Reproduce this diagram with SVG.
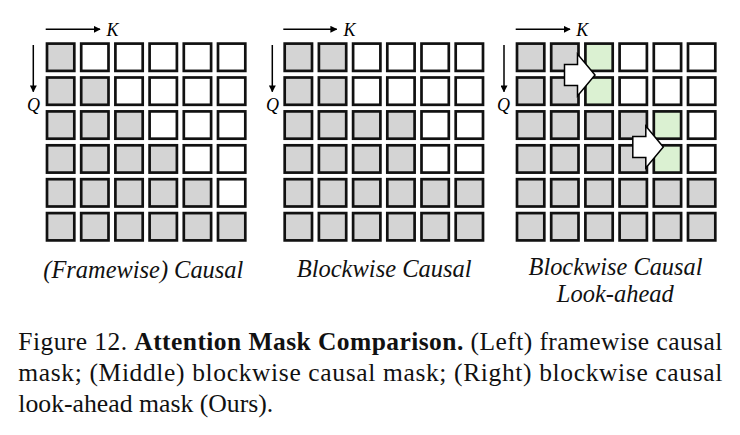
<svg xmlns="http://www.w3.org/2000/svg" width="740" height="435" viewBox="0 0 740 435">
<style>
  .c{stroke:#111;stroke-width:2.7}
  .g{fill:#d4d4d4}
  .w{fill:#fff}
  .n{fill:#dbf1d2}
  .ax{stroke:#000;stroke-width:1.5;fill:none}
  .lab{font-family:"Liberation Serif","Times New Roman",serif;font-style:italic;font-size:18px;fill:#000}
  .cap{font-family:"Liberation Serif","Times New Roman",serif;font-style:italic;font-size:25px;fill:#111;text-anchor:middle}
  .fig{font-family:"Liberation Serif","Times New Roman",serif;font-size:25.5px;fill:#111}
  .blk{fill:#fff;stroke:#000;stroke-width:1.5;stroke-linejoin:miter}
</style>
<defs>
  <marker id="ah2" viewBox="0 0 10 10" refX="9" refY="5" markerWidth="7" markerHeight="7" orient="auto" markerUnits="userSpaceOnUse">
    <path d="M0,0 L10,5 L0,10 z" fill="#000"/>
  </marker>
</defs>
<rect width="740" height="435" fill="#fff"/>

<g id="connectors">
  <line class="ax" x1="45.7" y1="29.3" x2="100" y2="29.3" marker-end="url(#ah2)"/>
  <line class="ax" x1="33.3" y1="45" x2="33.3" y2="91.7" marker-end="url(#ah2)"/>
  <line class="ax" x1="283.3" y1="29.3" x2="336.7" y2="29.3" marker-end="url(#ah2)"/>
  <line class="ax" x1="272.3" y1="45" x2="272.3" y2="91.7" marker-end="url(#ah2)"/>
  <line class="ax" x1="515.7" y1="29.3" x2="570" y2="29.3" marker-end="url(#ah2)"/>
  <line class="ax" x1="504" y1="45" x2="504" y2="91.7" marker-end="url(#ah2)"/>
</g>

<g id="labels">
  <text class="lab" x="106.5" y="35.8">K</text>
  <text class="lab" x="33.5" y="111" text-anchor="middle">Q</text>
  <text class="lab" x="343.5" y="35.8">K</text>
  <text class="lab" x="272.5" y="111" text-anchor="middle">Q</text>
  <text class="lab" x="576.2" y="35.8">K</text>
  <text class="lab" x="503.5" y="111" text-anchor="middle">Q</text>
</g>

<g id="grid-framewise">
  <rect class="c g" x="47.0" y="43.6" width="27.3" height="27.3"/>
  <rect class="c w" x="81.2" y="43.6" width="27.3" height="27.3"/>
  <rect class="c w" x="115.4" y="43.6" width="27.3" height="27.3"/>
  <rect class="c w" x="149.6" y="43.6" width="27.3" height="27.3"/>
  <rect class="c w" x="183.8" y="43.6" width="27.3" height="27.3"/>
  <rect class="c w" x="218.0" y="43.6" width="27.3" height="27.3"/>

  <rect class="c g" x="47.0" y="77.5" width="27.3" height="27.3"/>
  <rect class="c g" x="81.2" y="77.5" width="27.3" height="27.3"/>
  <rect class="c w" x="115.4" y="77.5" width="27.3" height="27.3"/>
  <rect class="c w" x="149.6" y="77.5" width="27.3" height="27.3"/>
  <rect class="c w" x="183.8" y="77.5" width="27.3" height="27.3"/>
  <rect class="c w" x="218.0" y="77.5" width="27.3" height="27.3"/>

  <rect class="c g" x="47.0" y="111.4" width="27.3" height="27.3"/>
  <rect class="c g" x="81.2" y="111.4" width="27.3" height="27.3"/>
  <rect class="c g" x="115.4" y="111.4" width="27.3" height="27.3"/>
  <rect class="c w" x="149.6" y="111.4" width="27.3" height="27.3"/>
  <rect class="c w" x="183.8" y="111.4" width="27.3" height="27.3"/>
  <rect class="c w" x="218.0" y="111.4" width="27.3" height="27.3"/>

  <rect class="c g" x="47.0" y="145.3" width="27.3" height="27.3"/>
  <rect class="c g" x="81.2" y="145.3" width="27.3" height="27.3"/>
  <rect class="c g" x="115.4" y="145.3" width="27.3" height="27.3"/>
  <rect class="c g" x="149.6" y="145.3" width="27.3" height="27.3"/>
  <rect class="c w" x="183.8" y="145.3" width="27.3" height="27.3"/>
  <rect class="c w" x="218.0" y="145.3" width="27.3" height="27.3"/>

  <rect class="c g" x="47.0" y="179.2" width="27.3" height="27.3"/>
  <rect class="c g" x="81.2" y="179.2" width="27.3" height="27.3"/>
  <rect class="c g" x="115.4" y="179.2" width="27.3" height="27.3"/>
  <rect class="c g" x="149.6" y="179.2" width="27.3" height="27.3"/>
  <rect class="c g" x="183.8" y="179.2" width="27.3" height="27.3"/>
  <rect class="c w" x="218.0" y="179.2" width="27.3" height="27.3"/>

  <rect class="c g" x="47.0" y="213.1" width="27.3" height="27.3"/>
  <rect class="c g" x="81.2" y="213.1" width="27.3" height="27.3"/>
  <rect class="c g" x="115.4" y="213.1" width="27.3" height="27.3"/>
  <rect class="c g" x="149.6" y="213.1" width="27.3" height="27.3"/>
  <rect class="c g" x="183.8" y="213.1" width="27.3" height="27.3"/>
  <rect class="c g" x="218.0" y="213.1" width="27.3" height="27.3"/>
</g>

<g id="grid-blockwise">
  <rect class="c g" x="284.7" y="43.6" width="27.3" height="27.3"/>
  <rect class="c g" x="318.9" y="43.6" width="27.3" height="27.3"/>
  <rect class="c w" x="353.1" y="43.6" width="27.3" height="27.3"/>
  <rect class="c w" x="387.3" y="43.6" width="27.3" height="27.3"/>
  <rect class="c w" x="421.5" y="43.6" width="27.3" height="27.3"/>
  <rect class="c w" x="455.7" y="43.6" width="27.3" height="27.3"/>

  <rect class="c g" x="284.7" y="77.5" width="27.3" height="27.3"/>
  <rect class="c g" x="318.9" y="77.5" width="27.3" height="27.3"/>
  <rect class="c w" x="353.1" y="77.5" width="27.3" height="27.3"/>
  <rect class="c w" x="387.3" y="77.5" width="27.3" height="27.3"/>
  <rect class="c w" x="421.5" y="77.5" width="27.3" height="27.3"/>
  <rect class="c w" x="455.7" y="77.5" width="27.3" height="27.3"/>

  <rect class="c g" x="284.7" y="111.4" width="27.3" height="27.3"/>
  <rect class="c g" x="318.9" y="111.4" width="27.3" height="27.3"/>
  <rect class="c g" x="353.1" y="111.4" width="27.3" height="27.3"/>
  <rect class="c g" x="387.3" y="111.4" width="27.3" height="27.3"/>
  <rect class="c w" x="421.5" y="111.4" width="27.3" height="27.3"/>
  <rect class="c w" x="455.7" y="111.4" width="27.3" height="27.3"/>

  <rect class="c g" x="284.7" y="145.3" width="27.3" height="27.3"/>
  <rect class="c g" x="318.9" y="145.3" width="27.3" height="27.3"/>
  <rect class="c g" x="353.1" y="145.3" width="27.3" height="27.3"/>
  <rect class="c g" x="387.3" y="145.3" width="27.3" height="27.3"/>
  <rect class="c w" x="421.5" y="145.3" width="27.3" height="27.3"/>
  <rect class="c w" x="455.7" y="145.3" width="27.3" height="27.3"/>

  <rect class="c g" x="284.7" y="179.2" width="27.3" height="27.3"/>
  <rect class="c g" x="318.9" y="179.2" width="27.3" height="27.3"/>
  <rect class="c g" x="353.1" y="179.2" width="27.3" height="27.3"/>
  <rect class="c g" x="387.3" y="179.2" width="27.3" height="27.3"/>
  <rect class="c g" x="421.5" y="179.2" width="27.3" height="27.3"/>
  <rect class="c g" x="455.7" y="179.2" width="27.3" height="27.3"/>

  <rect class="c g" x="284.7" y="213.1" width="27.3" height="27.3"/>
  <rect class="c g" x="318.9" y="213.1" width="27.3" height="27.3"/>
  <rect class="c g" x="353.1" y="213.1" width="27.3" height="27.3"/>
  <rect class="c g" x="387.3" y="213.1" width="27.3" height="27.3"/>
  <rect class="c g" x="421.5" y="213.1" width="27.3" height="27.3"/>
  <rect class="c g" x="455.7" y="213.1" width="27.3" height="27.3"/>
</g>

<g id="grid-lookahead">
  <rect class="c g" x="517.0" y="43.6" width="27.3" height="27.3"/>
  <rect class="c g" x="551.2" y="43.6" width="27.3" height="27.3"/>
  <rect class="c n" x="585.4" y="43.6" width="27.3" height="27.3"/>
  <rect class="c w" x="619.6" y="43.6" width="27.3" height="27.3"/>
  <rect class="c w" x="653.8" y="43.6" width="27.3" height="27.3"/>
  <rect class="c w" x="688.0" y="43.6" width="27.3" height="27.3"/>

  <rect class="c g" x="517.0" y="77.5" width="27.3" height="27.3"/>
  <rect class="c g" x="551.2" y="77.5" width="27.3" height="27.3"/>
  <rect class="c n" x="585.4" y="77.5" width="27.3" height="27.3"/>
  <rect class="c w" x="619.6" y="77.5" width="27.3" height="27.3"/>
  <rect class="c w" x="653.8" y="77.5" width="27.3" height="27.3"/>
  <rect class="c w" x="688.0" y="77.5" width="27.3" height="27.3"/>

  <rect class="c g" x="517.0" y="111.4" width="27.3" height="27.3"/>
  <rect class="c g" x="551.2" y="111.4" width="27.3" height="27.3"/>
  <rect class="c g" x="585.4" y="111.4" width="27.3" height="27.3"/>
  <rect class="c g" x="619.6" y="111.4" width="27.3" height="27.3"/>
  <rect class="c n" x="653.8" y="111.4" width="27.3" height="27.3"/>
  <rect class="c w" x="688.0" y="111.4" width="27.3" height="27.3"/>

  <rect class="c g" x="517.0" y="145.3" width="27.3" height="27.3"/>
  <rect class="c g" x="551.2" y="145.3" width="27.3" height="27.3"/>
  <rect class="c g" x="585.4" y="145.3" width="27.3" height="27.3"/>
  <rect class="c g" x="619.6" y="145.3" width="27.3" height="27.3"/>
  <rect class="c n" x="653.8" y="145.3" width="27.3" height="27.3"/>
  <rect class="c w" x="688.0" y="145.3" width="27.3" height="27.3"/>

  <rect class="c g" x="517.0" y="179.2" width="27.3" height="27.3"/>
  <rect class="c g" x="551.2" y="179.2" width="27.3" height="27.3"/>
  <rect class="c g" x="585.4" y="179.2" width="27.3" height="27.3"/>
  <rect class="c g" x="619.6" y="179.2" width="27.3" height="27.3"/>
  <rect class="c g" x="653.8" y="179.2" width="27.3" height="27.3"/>
  <rect class="c g" x="688.0" y="179.2" width="27.3" height="27.3"/>

  <rect class="c g" x="517.0" y="213.1" width="27.3" height="27.3"/>
  <rect class="c g" x="551.2" y="213.1" width="27.3" height="27.3"/>
  <rect class="c g" x="585.4" y="213.1" width="27.3" height="27.3"/>
  <rect class="c g" x="619.6" y="213.1" width="27.3" height="27.3"/>
  <rect class="c g" x="653.8" y="213.1" width="27.3" height="27.3"/>
  <rect class="c g" x="688.0" y="213.1" width="27.3" height="27.3"/>
</g>

<g id="lookahead-arrow-1">
  <polygon class="blk" points="564.5,64.5 577.5,64.5 577.5,54 595,75 577.5,96 577.5,85.5 564.5,85.5"/>
</g>
<g id="lookahead-arrow-2">
  <polygon class="blk" points="632.8,136.5 645.8,136.5 645.8,126 663.3,147 645.8,168 645.8,157.5 632.8,157.5"/>
</g>

<g id="panel-captions">
  <text class="cap" x="143.3" y="278" textLength="200" lengthAdjust="spacingAndGlyphs">(Framewise) Causal</text>
  <text class="cap" x="384.2" y="277" textLength="175" lengthAdjust="spacingAndGlyphs">Blockwise Causal</text>
  <text class="cap" x="615.5" y="274.5" textLength="174" lengthAdjust="spacingAndGlyphs">Blockwise Causal</text>
  <text class="cap" x="615.3" y="301.5" textLength="117" lengthAdjust="spacingAndGlyphs">Look-ahead</text>
</g>

<g id="figure-caption">
  <text class="fig" x="18.3" y="349.5" textLength="704" lengthAdjust="spacing">Figure 12. <tspan font-weight="bold">Attention Mask Comparison.</tspan> (Left) framewise causal</text>
  <text class="fig" x="18.3" y="381" textLength="704" lengthAdjust="spacing">mask; (Middle) blockwise causal mask; (Right) blockwise causal</text>
  <text class="fig" x="18.3" y="412" textLength="255" lengthAdjust="spacingAndGlyphs">look-ahead mask (Ours).</text>
</g>
</svg>
